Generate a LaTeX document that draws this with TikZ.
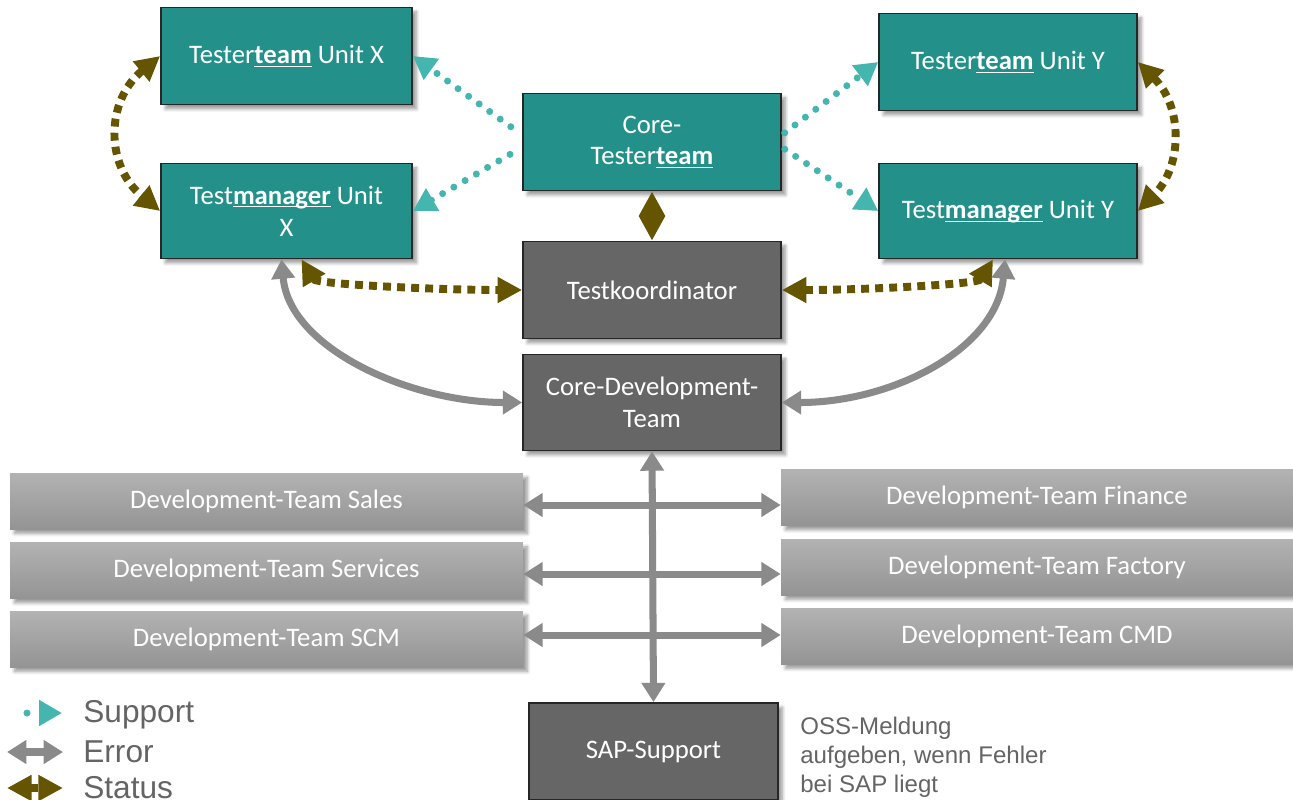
\documentclass[tikz,border=0pt]{standalone}
\usepackage{fontspec}
\setmainfont{Carlito}
\newfontfamily\legendfont{Liberation Sans}
\usetikzlibrary{arrows.meta,calc,shadows.blur}

\definecolor{tealfill}{HTML}{23918A}
\definecolor{supportc}{HTML}{45B5B0}
\definecolor{statusc}{HTML}{665500}
\definecolor{errorc}{HTML}{8A8A8A}
\definecolor{darkfill}{HTML}{666666}
\definecolor{legendc}{HTML}{646464}

\newcommand{\ulbf}[1]{\underline{\smash{\textbf{#1}}}}

\begin{document}
\begin{tikzpicture}[x=0.02cm, y=-0.02cm,
    box/.style={text=white, align=center, inner sep=0pt,
        font=\fontsize{15.2}{18}\selectfont,
        blur shadow={shadow xshift=2.5pt, shadow yshift=-2.5pt, shadow blur steps=6}},
    testbox/.style={box, draw=black!85, line width=1pt, fill=tealfill,
        minimum width=5.12cm, minimum height=1.94cm},
    graybox/.style={box, draw=black!85, line width=1pt, fill=darkfill,
        minimum width=5.16cm, minimum height=1.94cm},
    devbox/.style={box, top color=black!30, bottom color=black!42,
        minimum width=10.26cm, minimum height=1.12cm},
    errorarrow/.style={draw=errorc, line width=4pt, <->,
        >={Triangle[length=11pt,width=13pt]}},
    statusarrow/.style={draw=statusc, line width=4.5pt, dash pattern=on 4.5pt off 3.5pt,
        <->, >={Triangle[length=14pt,width=14pt]}},
    supportarrow/.style={draw=supportc, line width=4pt, line cap=round,
        dash pattern=on 0pt off 7.4pt, ->, >={Triangle[length=13pt,width=14pt]}},
    legendtext/.style={anchor=west, text=legendc, inner sep=0pt,
        font=\legendfont\fontsize{18}{21}\selectfont},
]
    \useasboundingbox (0,0) rectangle (1293,799);

    % test side
    \node[testbox, minimum width=5.02cm] (TX) at (286.5,56) {Tester\ulbf{team} Unit X};
    \node[testbox, minimum width=5.02cm, minimum height=1.9cm] (TMX) at (286.5,211)
        {Test\ulbf{manager} Unit\\X};
    \node[testbox, minimum width=5.16cm] (CT) at (652,142) {Core-\\Tester\ulbf{team}};
    \node[testbox, minimum width=5.16cm] (TY) at (1008,62) {Tester\ulbf{team} Unit Y};
    \node[testbox, minimum width=5.16cm, minimum height=1.9cm] (TMY) at (1008,211)
        {Test\ulbf{manager} Unit Y};

    % coordination and development
    \node[graybox] (TK) at (652,290) {Testkoordinator};
    \node[graybox, minimum height=1.92cm] (CD) at (652,402.5) {Core-Development-\\Team};
    \node[graybox, minimum width=4.98cm] (SAP) at (653.5,751.5) {SAP-Support};

    \node[devbox] (Sales) at (266.5,501) {Development-Team Sales};
    \node[devbox] (Services) at (266.5,570.5) {Development-Team Services};
    \node[devbox] (SCM) at (266.5,639) {Development-Team SCM};
    \node[devbox, minimum width=10.24cm] (Finance) at (1037,497.5) {Development-Team Finance};
    \node[devbox, minimum width=10.24cm] (Factory) at (1037,567) {Development-Team Factory};
    \node[devbox, minimum width=10.24cm] (CMD) at (1037,636) {Development-Team CMD};

    % status
    \draw[statusarrow] (TX.west) .. controls +(-55,45) and +(-55,-45) .. (TMX.west);
    \draw[statusarrow] (TY.east) .. controls +(45,45) and +(45,-45) .. (TMY.east);
    \draw[statusarrow] ($(TMX.south)+(15,0)$) .. controls +(15,25) and +(-80,0) .. (TK.west);
    \draw[statusarrow] (TK.east) .. controls +(80,0) and +(-15,25) .. ($(TMY.south)+(-15,0)$);
    \draw[statusarrow] (CT.south) -- (TK.north);

    % support
    \draw[supportarrow, shorten <=8pt] ([yshift=4pt]CT.west) -- (TX.east);
    \draw[supportarrow, shorten <=8pt] ([yshift=-3pt]CT.west) -- (TMX.east);
    \draw[supportarrow, shorten <=2pt] ([yshift=4pt]CT.east) -- (TY.west);
    \draw[supportarrow, shorten <=2pt] ([yshift=-3pt]CT.east) -- (TMY.west);

    % error
    \draw[errorarrow] ($(TMX.south)+(-5,0)$) .. controls +(8,90) and +(-110,0) .. (CD.west);
    \draw[errorarrow] (CD.east) .. controls +(110,0) and +(-8,90) .. ($(TMY.south)+(-3,0)$);
    \draw[errorarrow] (CD.south) -- (SAP.north);
    \draw[errorarrow] (Sales.east |- 0,505) -- (Finance.west |- 0,505);
    \draw[errorarrow] (Services.east |- 0,574) -- (Factory.west |- 0,574);
    \draw[errorarrow] (SCM.east |- 0,635) -- (CMD.west |- 0,635);

    % legend
    \coordinate (supA) at (27,713);
    \coordinate (supB) at (62,713);
    \coordinate (errA) at (7,752);
    \coordinate (errB) at (63,752);
    \coordinate (staA) at (7,788);
    \coordinate (staB) at (63,788);
    \draw[supportarrow, dash pattern=on 0pt off 30pt] (supA) -- (supB);
    \draw[errorarrow, line width=5pt] (errA) -- (errB);
    \draw[statusarrow] (staA) -- (staB);
    \node[legendtext] (supT) at (83,715) {Support};
    \node[legendtext] (errT) at (83,752) {Error};
    \node[legendtext] (staT) at (83,788) {Status};

    \node[anchor=north west, align=left, inner sep=0pt, text=legendc,
        font=\legendfont\fontsize{13.7}{16.4}\selectfont] (oss) at (800,717)
        {OSS-Meldung\\aufgeben, wenn Fehler\\bei SAP liegt};
\end{tikzpicture}
\end{document}
